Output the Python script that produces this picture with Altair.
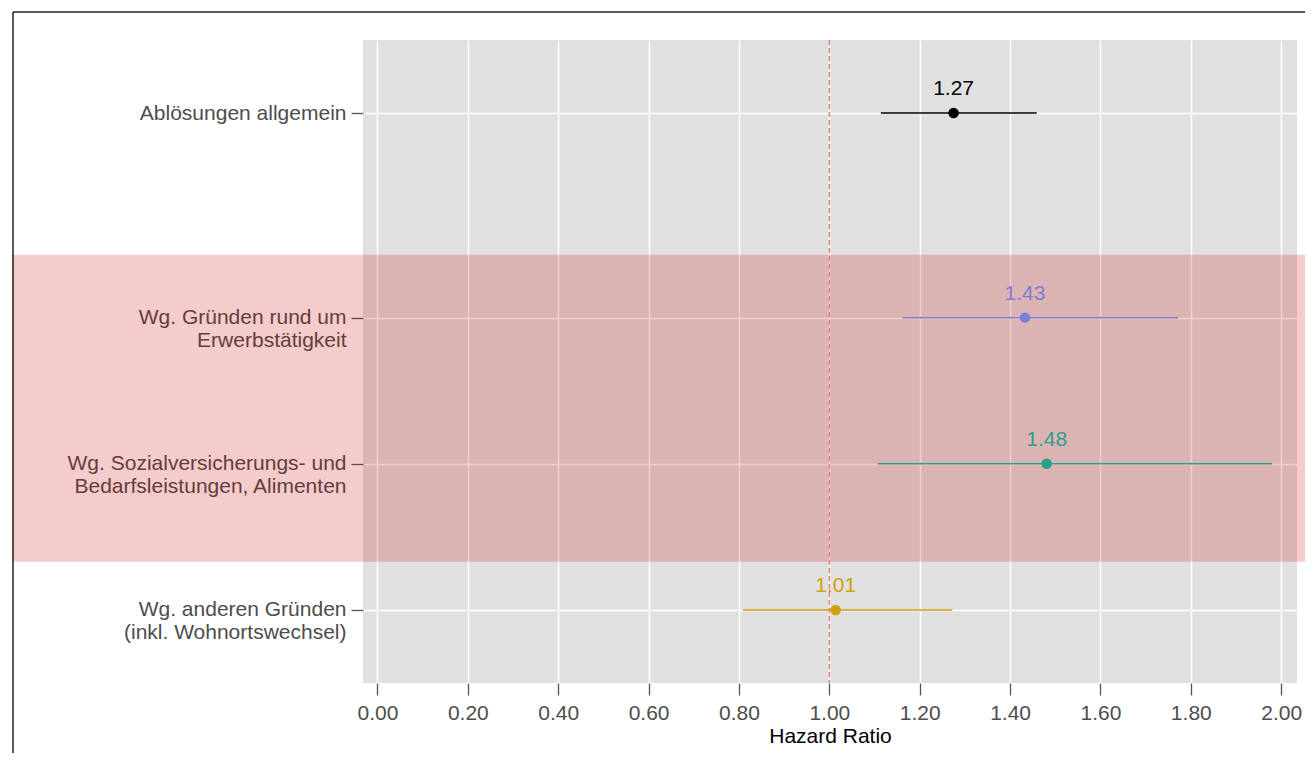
import json
import altair as alt
import pandas as pd

# ---- data ----
categories = [
    "Ablösungen allgemein",
    "Wg. Gründen rund um\u00a0\u00a0\nErwerbstätigkeit",
    "Wg. Sozialversicherungs- und\nBedarfsleistungen, Alimenten",
    "Wg. anderen Gründen\n(inkl. Wohnortswechsel)",
]
row_pos = [4.4, 3, 2, 1]          # row position on the y scale (data units)
hr = [1.275, 1.433, 1.481, 1.014]
ci_lo = [1.114, 1.162, 1.107, 0.809]
ci_hi = [1.459, 1.772, 1.980, 1.272]
hr_text = ["1.27", "1.43", "1.48", "1.01"]
colors = ["#000000", "#7B80D6", "#26A28B", "#CFA10F"]
x_ticks = [0.0, 0.2, 0.4, 0.6, 0.8, 1.0, 1.2, 1.4, 1.6, 1.8, 2.0]
ref_line = [1.0]
band_lo = [1.33]
band_hi = [3.43]

FONT = "Liberation Sans"
FS = 21

df = pd.DataFrame({
    "cat": categories, "pos": row_pos, "hr": hr,
    "lo": ci_lo, "hi": ci_hi, "txt": hr_text,
})
band_df = pd.DataFrame({"y1": band_lo, "y2": band_hi})
ref_df = pd.DataFrame({"x": ref_line})

label_expr = " : ".join(
    f"datum.value == {p} ? {json.dumps(c.split(chr(10)), ensure_ascii=False)}"
    for p, c in zip(row_pos, categories)
) + " : ''"

xscale = alt.Scale(domain=[-0.032, 2.035], nice=False, zero=False)
yscale = alt.Scale(domain=[0.5, 4.9], nice=False, zero=False)

xaxis = alt.Axis(
    values=x_ticks, format=".2f", grid=True, gridColor="white", gridWidth=1.5,
    domain=False, tickColor="#555555", tickSize=12, tickWidth=1.3,
    labelFontSize=FS, labelColor="#4D4D4D", labelFont=FONT, labelPadding=7,
    title="Hazard Ratio", titleFontSize=FS, titleFont=FONT,
    titleFontWeight="normal", titleColor="black", titlePadding=2,
)
yaxis = alt.Axis(
    values=row_pos, labelExpr=label_expr, grid=True, gridColor="white",
    gridWidth=1.5, domain=False, tickColor="#555555", tickSize=12,
    tickWidth=1.3, labelFontSize=FS, labelColor="#4D4D4D", labelFont=FONT,
    labelPadding=5, labelLineHeight=23, title=None, labelAlign="right",
    labelBaseline="middle", labelLimit=600,
)

X = lambda f: alt.X(f, scale=xscale, axis=xaxis)
Y = lambda f: alt.Y(f, scale=yscale, axis=yaxis)
color = alt.Color("cat:N", scale=alt.Scale(domain=categories, range=colors), legend=None)

band = alt.Chart(band_df).mark_rect(fill="#C80000", opacity=0.2).encode(
    x=alt.value(-351), x2=alt.value(960), y=Y("y1:Q"), y2="y2:Q"
)
ref = alt.Chart(ref_df).mark_rule(
    color="#F08080", strokeDash=[5, 3], strokeWidth=1.5
).encode(x=X("x:Q"))
ci = alt.Chart(df).mark_rule(strokeWidth=1.5).encode(
    x=X("lo:Q"), x2="hi:Q", y=Y("pos:Q"), color=color
)
pts = alt.Chart(df).mark_circle(size=110, opacity=1).encode(
    x=X("hr:Q"), y=Y("pos:Q"), color=color
)
txt = alt.Chart(df).mark_text(dy=-24, fontSize=FS, font=FONT).encode(
    x=X("hr:Q"), y=Y("pos:Q"), text="txt:N", color=color
)

frame_df = pd.DataFrame({"a": [0]})
frame_top = alt.Chart(frame_df).mark_rule(color="#222222", strokeWidth=1.5).encode(
    x=alt.value(-350), x2=alt.value(960), y=alt.value(-28)
)
frame_left = alt.Chart(frame_df).mark_rule(color="#222222", strokeWidth=1.5).encode(
    x=alt.value(-350), y=alt.value(-28), y2=alt.value(730)
)

chart = alt.layer(band, ref, ci, pts, txt, frame_top, frame_left).properties(
    width=934, height=643,
    autosize=alt.AutoSizeParams(type="none"),
    padding={"left": 355, "top": 32, "right": 8, "bottom": 70},
).configure_view(fill="#E0E0E0", strokeWidth=0)

chart.save("out.html", embed_options={"renderer": "svg", "actions": False})
